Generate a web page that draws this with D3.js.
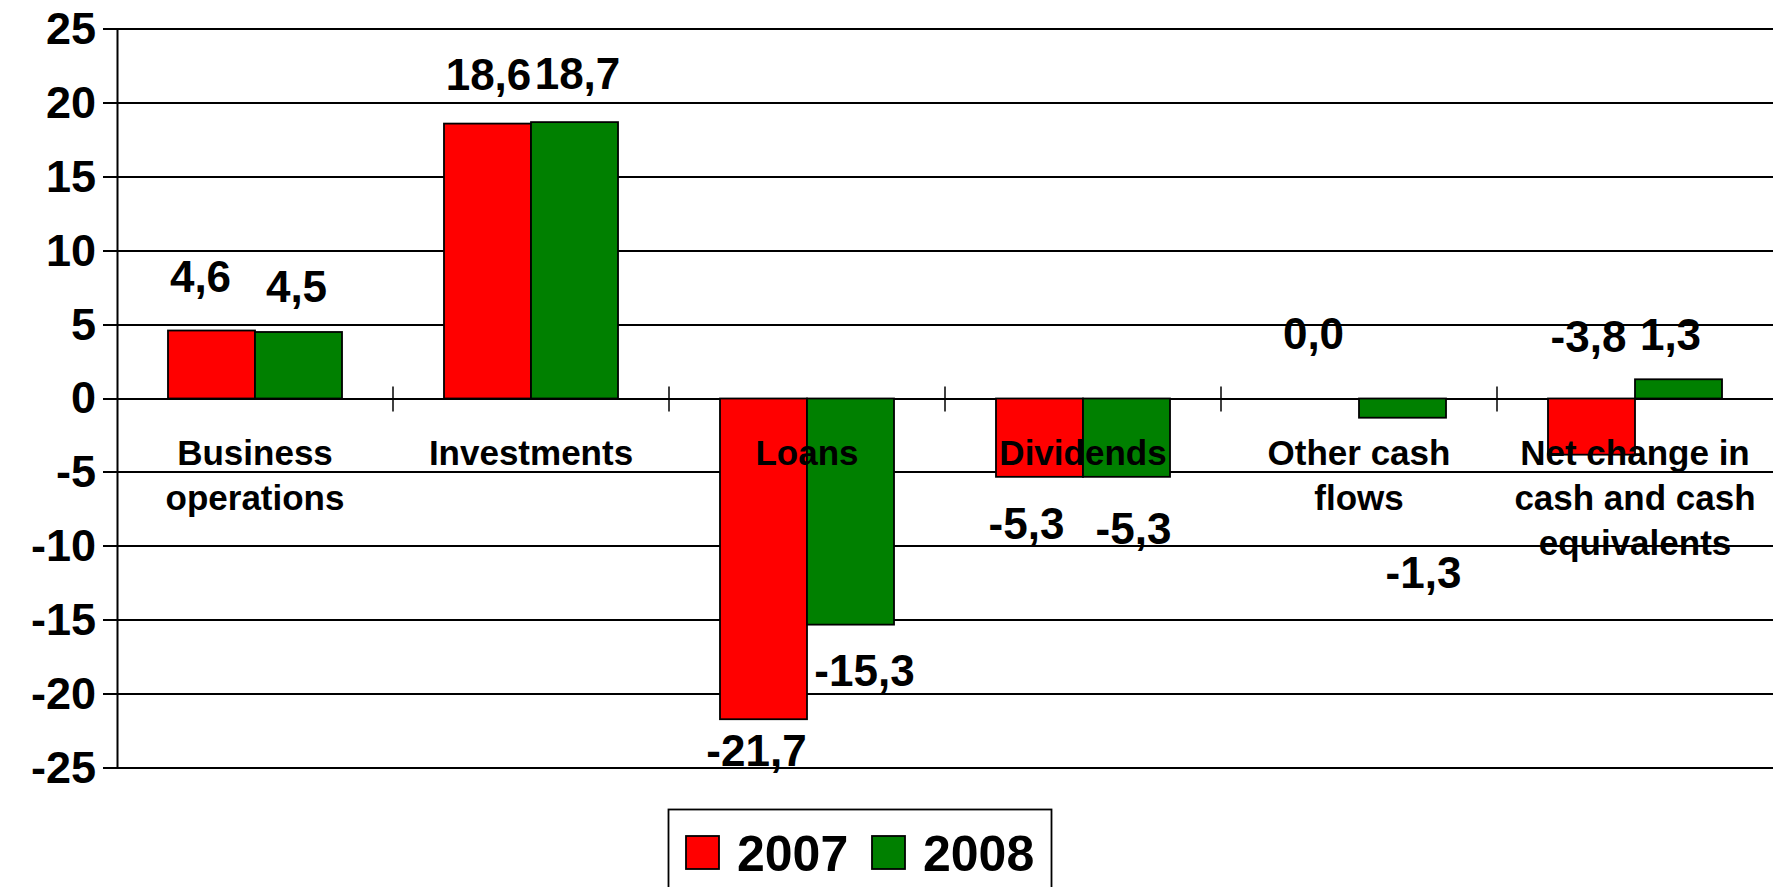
<!DOCTYPE html>
<html>
<head>
<meta charset="utf-8">
<script src="https://cdn.jsdelivr.net/npm/d3@7"></script>
<style>
  body { margin: 0; background: #fff; }
  svg { display: block; font-family: Arial, 'Liberation Sans', sans-serif; font-weight: bold; }
</style>
</head>
<body>
<div id="chart"></div>
<script>
const categories = ['Business operations', 'Investments', 'Loans', 'Dividends', 'Other cash flows', 'Net change in cash and cash equivalents']
const categoryLines = [['Business', 'operations'], ['Investments'], ['Loans'], ['Dividends'], ['Other cash', 'flows'], ['Net change in', 'cash and cash', 'equivalents']]
const series = ['2007', '2008']
const values2007 = [4.6, 18.6, -21.7, -5.3, 0.0, -3.8]
const values2008 = [4.5, 18.7, -15.3, -5.3, -1.3, 1.3]
const yTicks = [25, 20, 15, 10, 5, 0, -5, -10, -15, -20, -25]
const colors = { '2007': '#ff0000', '2008': '#008000' }

const width = 1773, height = 887

const svg = d3.select('#chart').append('svg')
    .attr('width', width)
    .attr('height', height)

let x = d3.scaleBand().domain(categories).range([117, 1773]).paddingInner(0).paddingOuter(0)
let xSub = d3.scaleBand().domain(series).range([0, x.bandwidth()]).paddingInner(0).paddingOuter(0.586)
let y = d3.scaleLinear().domain([-25, 25]).range([768, 29])

// comma decimals and a plain hyphen for the minus, like the original
const fmt = v => d3.format('.1f')(v).replace('.', ',').replace('\u2212', '-')

// gridlines, with the little ticks on the left
svg.append('g')
  .selectAll('line')
  .data(yTicks)
  .join('line')
    .attr('x1', 103)
    .attr('x2', width)
    .attr('y1', d => Math.round(y(d)))
    .attr('y2', d => Math.round(y(d)))
    .attr('stroke', '#000')
    .attr('stroke-width', 2)

// y axis
let yAxis = d3.axisLeft(y).tickValues(yTicks).tickSize(0).tickPadding(21).tickFormat(d => d)
svg.append('g')
    .attr('transform', 'translate(117,0)')
    .call(yAxis)
    .call(g => g.select('.domain').attr('stroke', '#000').attr('stroke-width', 2))
    .call(g => g.selectAll('text')
      .attr('font-size', 45)
      .attr('font-family', 'Arial, Liberation Sans, sans-serif')
      .attr('font-weight', 'bold')
      .attr('fill', '#000'))

// category cross ticks on zero line
svg.append('g')
  .selectAll('line')
  .data(categories.slice(1))
  .join('line')
    .attr('x1', d => x(d))
    .attr('x2', d => x(d))
    .attr('y1', y(0) - 12)
    .attr('y2', y(0) + 13)
    .attr('stroke', '#000')
    .attr('stroke-width', 1.5)

const rows = []
categories.forEach((c, i) => {
  rows.push({ cat: c, s: '2007', v: values2007[i], i: i })
  rows.push({ cat: c, s: '2008', v: values2008[i], i: i })
})

// bars
svg.append('g')
  .selectAll('rect')
  .data(rows.filter(d => d.v !== 0))
  .join('rect')
    .attr('x', d => x(d.cat) + xSub(d.s))
    .attr('width', xSub.bandwidth())
    .attr('y', d => y(Math.max(0, d.v)))
    .attr('height', d => Math.abs(y(d.v) - y(0)))
    .attr('fill', d => colors[d.s])
    .attr('stroke', '#000')
    .attr('stroke-width', 1.8)

// category labels
const catG = svg.append('g')
catG.selectAll('text')
  .data(categories)
  .join('text')
    .attr('text-anchor', 'middle')
    .attr('font-size', 35)
    .attr('fill', '#000')
    .each(function (d, i) {
      const t = d3.select(this)
      categoryLines[i].forEach((line, k) => {
        t.append('tspan')
          .attr('x', x(d) + x.bandwidth() / 2)
          .attr('y', y(0) + 66 + k * 45)
          .text(line)
      })
    })

// value labels were dragged around by hand in the original, so nudge each one
const labelNudge = {
  '2007': [[-11, -39], [1, -34], [-7, 47], [-13, 62], [-2, -50], [-3, -103]],
  '2008': [[-2, -30], [3, -33], [14, 61], [7, 67], [21, 170], [-8, -29]]
}
svg.append('g')
  .selectAll('text')
  .data(rows)
  .join('text')
    .attr('text-anchor', 'middle')
    .attr('font-size', 44)
    .attr('fill', '#000')
    .attr('x', d => x(d.cat) + xSub(d.s) + xSub.bandwidth() / 2 + labelNudge[d.s][d.i][0])
    .attr('y', d => y(d.v) + labelNudge[d.s][d.i][1])
    .text(d => fmt(d.v))

// legend
const legend = svg.append('g').attr('transform', 'translate(668,809)')
legend.append('rect')
    .attr('x', 0.5).attr('y', 0.5)
    .attr('width', 383).attr('height', 120)
    .attr('fill', '#fff')
    .attr('stroke', '#000')
    .attr('stroke-width', 1.8)
const items = legend.selectAll('g.item')
  .data(series)
  .join('g')
    .attr('class', 'item')
    .attr('transform', (d, i) => 'translate(' + (18 + i * 186) + ',0)')
items.append('rect')
    .attr('x', 0).attr('y', 27)
    .attr('width', 33).attr('height', 33)
    .attr('fill', d => colors[d])
    .attr('stroke', '#000')
    .attr('stroke-width', 1.8)
items.append('text')
    .attr('x', 51)
    .attr('y', 62)
    .attr('font-size', 50)
    .attr('fill', '#000')
    .text(d => d)
</script>
</body>
</html>
